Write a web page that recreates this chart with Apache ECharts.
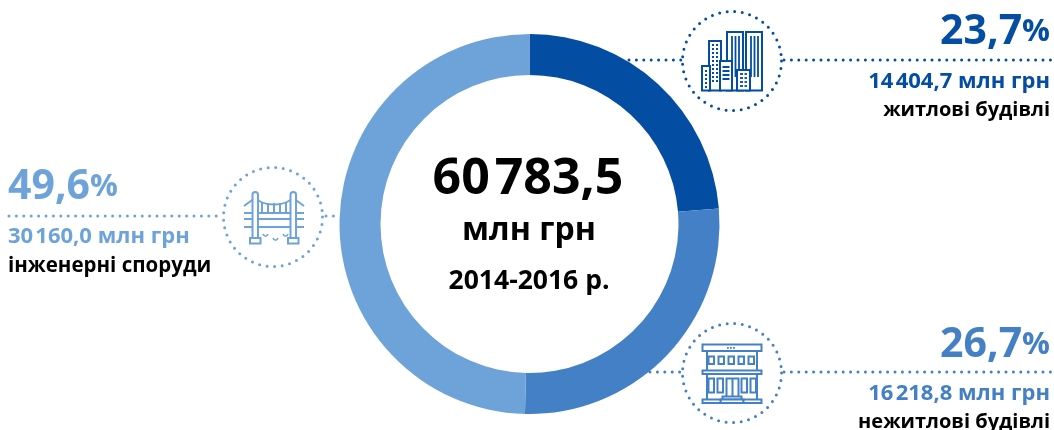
<!DOCTYPE html>
<html>
<head>
<meta charset="utf-8">
<title>chart</title>
<style>
  html, body { margin: 0; padding: 0; background: #fff; }
  #main { width: 1054px; height: 430px; }
</style>
<script src="https://cdn.jsdelivr.net/npm/echarts@6/dist/echarts.min.js"></script>
</head>
<body>
<div id="main"></div>
<script>
// дані
var categories = ['житлові будівлі', 'нежитлові будівлі', 'інженерні споруди'];
var values = [14404.7, 16218.8, 30160.0];
var valueLabels = ['14\u200a404,7 млн грн', '16\u200a218,8 млн грн', '30\u200a160,0 млн грн'];
var percents = ['23,7', '26,7', '49,6'];
var totalLabels = ['60\u200a783,5', 'млн грн', '2014-2016 р.'];
var colors = ['#034ea2', '#4480c5', '#6ea3da'];

var FONT = '"Open Sans", sans-serif';
var STROKE = 2;
var chart = echarts.init(document.getElementById('main'));

function txt(x, y, text, size, color, align) {
  return {
    type: 'text', x: x, y: y, silent: true,
    style: {
      text: text, fill: color, align: align, verticalAlign: 'middle',
      fontFamily: FONT, fontSize: size, fontWeight: 'bold'
    }
  };
}

function pctText(x, y, i, align) {
  return {
    type: 'text', x: x, y: y, silent: true,
    style: {
      text: '{a|' + percents[i] + '}{b|%}', align: align, verticalAlign: 'middle',
      rich: {
        a: { fontFamily: FONT, fontSize: 41, fontWeight: 'bold', fill: colors[i] },
        b: { fontFamily: FONT, fontSize: 31, fontWeight: 'bold', fill: colors[i] }
      }
    }
  };
}

function dots(x1, y, x2, color) {
  return {
    type: 'line', silent: true,
    shape: { x1: x1, y1: y, x2: x2, y2: y },
    style: { stroke: color, lineWidth: 3, lineDash: [0, 7.4], lineCap: 'round' }
  };
}

function ring(cx, cy, color) {
  return {
    type: 'circle', silent: true,
    shape: { cx: cx, cy: cy, r: 49.5 },
    style: { fill: 'none', stroke: color, lineWidth: 3, lineDash: [0, 7.6], lineCap: 'round' }
  };
}

function box(x, y, w, h, color, fill) {
  return {
    type: 'rect', silent: true,
    shape: { x: x, y: y, width: w, height: h },
    style: { fill: fill || '#fff', stroke: color, lineWidth: STROKE }
  };
}

function seg(x1, y1, x2, y2, color, width) {
  return {
    type: 'line', silent: true,
    shape: { x1: x1, y1: y1, x2: x2, y2: y2 },
    style: { stroke: color, lineWidth: width || STROKE }
  };
}

// іконка: житлові будівлі
function towersIcon(c) {
  var els = [];
  els.push(box(727, 32, 16, 58.5, c));
  els.push(box(746, 32, 16, 58.5, c));
  [732, 735.5, 739].forEach(function (x) { els.push(seg(x, 36, x, 77, c, 1.8)); });
  [751, 754.5, 758].forEach(function (x) { els.push(seg(x, 36, x, 77, c, 1.8)); });
  els.push(box(709, 41, 12, 49.5, c));
  for (var y = 45; y < 84; y += 4) {
    els.push(seg(712, y, 714, y, c, 1.8));
    els.push(seg(716, y, 718, y, c, 1.8));
  }
  els.push(box(720, 61, 12, 29.5, c));
  [67, 71, 75, 79].forEach(function (y) { els.push(seg(722.5, y, 729.5, y, c, 2)); });
  els.push(box(702, 66, 8, 24.5, c));
  [71, 75, 79, 83, 87].forEach(function (y) { els.push(seg(705, y, 707, y, c, 1.8)); });
  els.push(box(737, 70, 13, 20.5, c));
  [74, 78, 82, 86].forEach(function (y) {
    els.push(seg(740, y, 743, y, c, 1.8));
    els.push(seg(744.5, y, 747, y, c, 1.8));
  });
  return els;
}

// іконка: нежитлові будівлі
function officeIcon(c) {
  var els = [];
  els.push(seg(707, 350, 707, 400, c));
  els.push(seg(757, 350, 757, 400, c));
  els.push(box(702.5, 344.5, 59, 6.5, c));
  [708, 718, 728, 738, 748].forEach(function (x) { els.push(box(x + 0.5, 356.5, 5.5, 7.5, c)); });
  [727, 730, 733].forEach(function (x) { els.push(seg(x, 347.8, x + 1.8, 347.8, c, 1.8)); });
  els.push(box(702.5, 370.5, 59, 3.5, c));
  [708.5, 717.5, 741.5, 750.5].forEach(function (x) { els.push(box(x, 378.5, 5.5, 14, c)); });
  els.push(box(726.5, 378.5, 12, 20, c));
  els.push(seg(732.5, 378.5, 732.5, 398, c));
  els.push(box(722.5, 396.5, 19, 3, c));
  els.push(box(720.5, 399.5, 23, 3.5, c));
  els.push(box(702.5, 399.5, 18, 3.5, c));
  els.push(box(743.5, 399.5, 18, 3.5, c));
  return els;
}

// іконка: інженерні споруди
function bridgeIcon(c) {
  var els = [];
  [[244, 206, 255, 198], [293, 198, 304, 206]].forEach(function (s) {
    els.push(seg(s[0], s[1], s[2], s[3], c));
  });
  els.push({
    type: 'bezierCurve', silent: true,
    shape: { x1: 255, y1: 197, cpx1: 262, cpy1: 207, cpx2: 286, cpy2: 207, x2: 293, y2: 197 },
    style: { fill: 'none', stroke: c, lineWidth: STROKE }
  });
  [262, 268, 274, 280, 286].forEach(function (x) { els.push(seg(x, 203, x, 213, c)); });
  [213, 219, 227].forEach(function (y) { els.push(seg(244, y, 304, y, c)); });
  [[252.5, 258], [290.5, 296]].forEach(function (p) {
    els.push({
      type: 'rect', silent: true,
      shape: { x: p[0], y: 192, width: 5.5, height: 46, r: [2.7, 2.7, 0, 0] },
      style: { fill: '#fff', stroke: c, lineWidth: STROKE }
    });
  });
  els.push(box(250, 238, 10.5, 5.5, c, 'none'));
  els.push(box(288, 238, 10.5, 5.5, c, 'none'));
  [[263, 234], [273, 238], [283, 234]].forEach(function (w) {
    els.push({
      type: 'bezierCurve', silent: true,
      shape: { x1: w[0], y1: w[1], cpx1: w[0] + 1, cpy1: w[1] + 3, cpx2: w[0] + 4, cpy2: w[1] + 3, x2: w[0] + 5, y2: w[1] },
      style: { fill: 'none', stroke: c, lineWidth: 1.5 }
    });
  });
  return els;
}

var graphics = [
  // центр
  txt(528, 180, totalLabels[0], 50, '#000', 'center'),
  txt(529, 231, totalLabels[1], 32, '#000', 'center'),
  txt(529, 281, totalLabels[2], 26.5, '#000', 'center'),

  // житлові будівлі
  dots(629, 60, 682, colors[0]),
  dots(784, 60, 1051, colors[0]),
  ring(732, 61, colors[0]),
  pctText(1050, 32, 0, 'right'),
  txt(1050, 82, valueLabels[0], 22, colors[0], 'right'),
  txt(1050, 110, categories[0], 20, '#000', 'right'),

  // нежитлові будівлі
  dots(650, 372, 682, colors[1]),
  dots(784, 372, 1051, colors[1]),
  ring(732, 373, colors[1]),
  pctText(1050, 345, 1, 'right'),
  txt(1050, 394, valueLabels[1], 22, colors[1], 'right'),
  txt(1050, 422, categories[1], 20, '#000', 'right'),

  // інженерні споруди
  dots(9, 216, 222, colors[2]),
  dots(326, 216, 338, colors[2]),
  ring(273, 217, colors[2]),
  pctText(8, 187, 2, 'left'),
  txt(8, 237, valueLabels[2], 22, colors[2], 'left'),
  txt(8, 266, categories[2], 20.5, '#000', 'left')
].concat(towersIcon(colors[0]), officeIcon(colors[1]), bridgeIcon(colors[2]));

var option = {
  animation: false,
  backgroundColor: '#fff',
  color: colors,
  series: [{
    type: 'pie',
    silent: true,
    center: [529.5, 224],
    radius: [149, 190],
    startAngle: 90,
    clockwise: true,
    label: { show: false },
    labelLine: { show: false },
    data: categories.map(function (name, i) {
      return { name: name, value: values[i] };
    })
  }],
  graphic: graphics
};

chart.setOption(option);
</script>
</body>
</html>
